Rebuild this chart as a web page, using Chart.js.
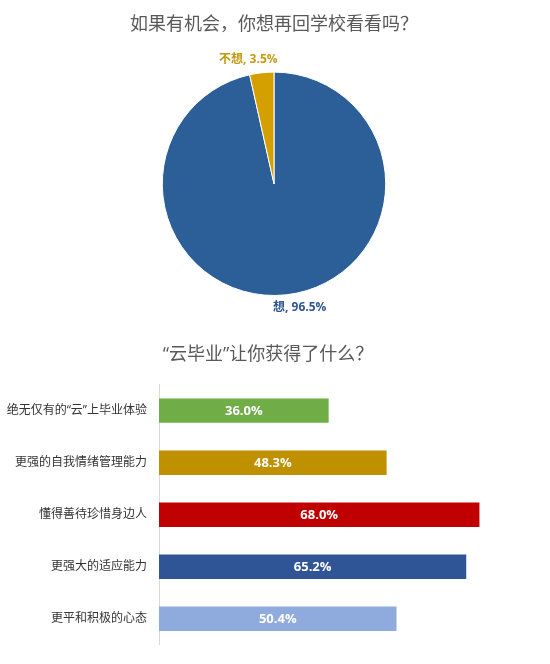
<!DOCTYPE html>
<html>
<head>
<meta charset="utf-8">
<script src="https://cdn.jsdelivr.net/npm/chart.js@4/dist/chart.umd.min.js"></script>
<style>
  html, body { margin: 0; padding: 0; background: #ffffff; }
  #wrap { position: relative; width: 550px; height: 664px; overflow: hidden; }
  #pieBox { position: absolute; left: 0; top: 0; width: 550px; height: 330px; }
  #barBox { position: absolute; left: 0; top: 330px; width: 550px; height: 334px; }
</style>
</head>
<body>
<div id="wrap">
  <div id="pieBox"><canvas id="pie"></canvas></div>
  <div id="barBox"><canvas id="bar"></canvas></div>
</div>
<script>
// ---- data ----
const pieTitle = '如果有机会，你想再回学校看看吗？';
const pieLabels = ['想', '不想'];
const pieValues = [96.5, 3.5];
const pieColors = ['#2c5f97', '#d4a000'];
const pieLabelColors = ['#2f5597', '#c49a12'];

const barTitle = '“云毕业”让你获得了什么？';
const barCategories = ['绝无仅有的“云”上毕业体验', '更强的自我情绪管理能力', '懂得善待珍惜身边人', '更强大的适应能力', '更平和积极的心态'];
const barValues = [36.0, 48.3, 68.0, 65.2, 50.4];
const barColors = ['#70ad47', '#bf9000', '#c00000', '#2f5597', '#8faadc'];
const barAxisMax = 80;

const FONT = '"Open Sans", "Noto Sans CJK SC", sans-serif';
const TITLE_FONT = '"Noto Sans CJK SC", sans-serif';

// ---- pie labels plugin ----
const pieLabelPlugin = {
  id: 'pieLabels',
  afterDatasetsDraw(chart) {
    const ctx = chart.ctx;
    const meta = chart.getDatasetMeta(0);
    ctx.save();
    ctx.font = 'bold 12px ' + FONT;
    ctx.textAlign = 'center';
    ctx.textBaseline = 'middle';
    meta.data.forEach((arc, i) => {
      const p = arc.getProps(['x', 'y', 'startAngle', 'endAngle', 'outerRadius'], true);
      const mid = (p.startAngle + p.endAngle) / 2;
      const r = p.outerRadius + 13;
      const c = Math.cos(mid), s = Math.sin(mid);
      const x = p.x + c * r + Math.sign(c) * 12;
      const y = p.y + s * r;
      ctx.fillStyle = pieLabelColors[i];
      ctx.fillText(pieLabels[i] + ', ' + pieValues[i].toFixed(1) + '%', x, y);
    });
    ctx.restore();
  }
};

// ---- bar labels plugin ----
const barLabelPlugin = {
  id: 'barLabels',
  afterDatasetsDraw(chart) {
    const ctx = chart.ctx;
    const meta = chart.getDatasetMeta(0);
    ctx.save();
    ctx.font = 'bold 13px ' + FONT;
    ctx.fillStyle = '#ffffff';
    ctx.textAlign = 'center';
    ctx.textBaseline = 'middle';
    meta.data.forEach((bar, i) => {
      const p = bar.getProps(['x', 'y', 'base'], true);
      ctx.fillText(barValues[i].toFixed(1) + '%', (p.x + p.base) / 2, p.y + 1);
    });
    ctx.restore();
  }
};

new Chart(document.getElementById('pie'), {
  type: 'pie',
  data: {
    labels: pieLabels,
    datasets: [{
      data: pieValues,
      backgroundColor: pieColors,
      borderColor: '#ffffff',
      borderWidth: 1
    }]
  },
  options: {
    responsive: true,
    maintainAspectRatio: false,
    animation: false,
    layout: { padding: { top: 0, bottom: 34, left: 0, right: 2 } },
    plugins: {
      legend: { display: false },
      tooltip: { enabled: false },
      title: {
        display: true,
        text: pieTitle,
        color: '#595959',
        font: { family: TITLE_FONT, size: 18, weight: 'normal' },
        padding: { top: 12, bottom: 38 }
      }
    }
  },
  plugins: [pieLabelPlugin]
});

new Chart(document.getElementById('bar'), {
  type: 'bar',
  data: {
    labels: barCategories,
    datasets: [{
      data: barValues,
      backgroundColor: barColors,
      borderWidth: 0,
      barPercentage: 0.47,
      categoryPercentage: 1
    }]
  },
  options: {
    indexAxis: 'y',
    responsive: true,
    maintainAspectRatio: false,
    animation: false,
    layout: { padding: { top: 0, bottom: 2, left: 0, right: 14 } },
    scales: {
      x: {
        display: false,
        min: 0,
        max: barAxisMax
      },
      y: {
        grid: { display: false, drawTicks: false },
        border: { display: true, color: '#d9d9d9', width: 1 },
        ticks: {
          color: '#333333',
          font: { family: FONT, size: 12 },
          padding: 12
        },
        afterFit(scale) { scale.width = 159; }
      }
    },
    plugins: {
      legend: { display: false },
      tooltip: { enabled: false },
      title: {
        display: true,
        text: barTitle,
        color: '#595959',
        font: { family: FONT, size: 18, weight: 'normal' },
        padding: { top: 14, bottom: 19 }
      }
    }
  },
  plugins: [barLabelPlugin]
});
</script>
</body>
</html>
